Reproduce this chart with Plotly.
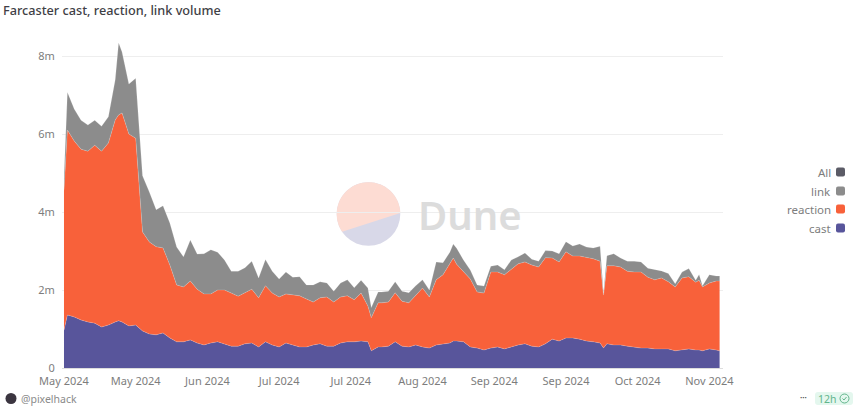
import numpy as np
import pandas as pd
import plotly.graph_objects as go

# days since 2024-05-01
days = [0, 1, 3, 5, 7, 9, 11, 13, 15, 16, 17, 19, 21, 23, 25, 27, 29, 31, 33, 35,
        37, 39, 41, 43, 45, 47, 49, 51, 53, 55, 57, 59, 61, 63, 65, 67, 69, 71, 73, 75,
        77, 79, 81, 83, 85, 87, 89, 90, 92, 93, 95, 97, 99, 101, 103, 105, 107, 109, 111, 113,
        114, 115, 117, 119, 121, 123, 125, 127, 129, 131, 133, 135, 137, 139, 141, 143, 145, 147, 149, 151, 153,
        155, 157, 158, 159, 161, 163, 165, 167, 169, 171, 173, 175, 177, 179, 181, 183, 185, 186, 187, 189,
        191, 192]

# values in millions
cast = [.97, 1.36, 1.31, 1.23, 1.18, 1.15, 1.05, 1.10, 1.18, 1.21, 1.18, 1.08, 1.10, .95, .87, .85, .90, .77, .67, .67,
        .72, .64, .59, .64, .67, .62, .56, .56, .62, .64, .54, .67, .59, .54, .64, .59, .54, .54, .59, .62,
        .56, .56, .64, .67, .67, .69, .67, .44, .54, .54, .56, .67, .56, .54, .59, .54, .51, .59, .62, .64,
        .69, .69, .67, .54, .51, .46, .51, .54, .49, .54, .59, .62, .56, .54, .62, .74, .69, .77, .77, .74, .69,
        .67, .64, .51, .62, .59, .59, .56, .54, .51, .51, .49, .49, .49, .44, .46, .49, .46, .46, .44, .49,
        .46, .44]
reaction = [3.59, 4.74, 4.51, 4.38, 4.38, 4.56, 4.51, 4.67, 5.18, 5.28, 5.36, 4.92, 4.79, 2.54, 2.36, 2.26, 2.18, 1.87, 1.46, 1.41,
            1.51, 1.38, 1.31, 1.26, 1.33, 1.38, 1.36, 1.28, 1.31, 1.38, 1.26, 1.44, 1.33, 1.28, 1.26, 1.28, 1.31, 1.23, 1.10, 1.18,
            1.26, 1.13, 1.18, 1.18, 1.08, 1.23, .92, .85, 1.13, 1.13, 1.13, 1.26, 1.15, 1.13, 1.26, 1.51, 1.31, 1.67, 1.77, 2.05,
            2.13, 1.97, 1.79, 1.74, 1.44, 1.46, 1.95, 1.92, 1.90, 2.00, 2.08, 2.10, 2.08, 2.05, 2.21, 2.08, 2.03, 2.21, 2.10, 2.13, 2.15,
            2.13, 2.10, 1.36, 2.00, 2.03, 2.00, 1.92, 1.92, 1.95, 1.82, 1.77, 1.82, 1.72, 1.64, 1.85, 1.85, 1.74, 1.79, 1.64, 1.69,
            1.77, 1.79]
link = [.31, .97, .82, .74, .67, .64, .64, .67, 1.03, 1.85, 1.56, 1.28, 1.54, 1.44, 1.28, .95, 1.08, 1.08, .97, .77,
        1.05, .90, 1.03, 1.13, .97, .77, .56, .64, .64, .72, .51, .67, .56, .46, .56, .46, .49, .36, .44, .41,
        .36, .28, .36, .41, .31, .33, .46, .26, .28, .28, .28, .28, .26, .26, .26, .21, .18, .46, .31, .28,
        .36, .41, .31, .23, .18, .18, .15, .18, .13, .23, .18, .23, .15, .15, .18, .18, .21, .26, .26, .31, .26,
        .28, .38, .05, .26, .31, .23, .26, .28, .26, .23, .26, .18, .21, .08, .15, .21, .05, .15, .03, .21,
        .13, .13]

series_names = ["cast", "reaction", "link"]
series_values = [cast, reaction, link]
series_colors = ["#58559b", "#f8613a", "#8c8c8c"]
legend_names = ["All", "link", "reaction", "cast"]
legend_colors = ["#5b5b66", "#8c8c8c", "#f8613a", "#58559b"]
y_ticks = [0, 2, 4, 6, 8]
y_labels = ["0", "2m", "4m", "6m", "8m"]

FONT = "Noto Sans"
W, H = 860, 412
LEFT, RIGHT, TOP, BOTTOM = 62, 723, 40, 368


def px(x):
    return (x - LEFT) / (RIGHT - LEFT)


def py(y):
    return (BOTTOM - y) / (BOTTOM - TOP)


def poly(points):
    return "M " + " L ".join(f"{px(x):.5f},{py(y):.5f}" for x, y in points) + " Z"


def round_rect(cx, cy, w, h, r):
    x0, x1, y0, y1 = px(cx - w / 2), px(cx + w / 2), py(cy - h / 2), py(cy + h / 2)
    rx, ry = r / (RIGHT - LEFT), r / (BOTTOM - TOP)
    return (f"M {x0 + rx},{y0} L {x1 - rx},{y0} Q {x1},{y0} {x1},{y0 - ry} "
            f"L {x1},{y1 + ry} Q {x1},{y1} {x1 - rx},{y1} L {x0 + rx},{y1} "
            f"Q {x0},{y1} {x0},{y1 + ry} L {x0},{y0 - ry} Q {x0},{y0} {x0 + rx},{y0} Z")


def circle(cx, cy, r, color, layer="above"):
    return dict(type="circle", xref="paper", yref="paper", layer=layer, line_width=0, fillcolor=color,
                x0=px(cx - r), x1=px(cx + r), y0=py(cy + r), y1=py(cy - r))


def note(x, y, text, size=11, color="#7d7d7d", anchor="left", weight=400):
    return dict(xref="paper", yref="paper", x=px(x), y=py(y), text=text, showarrow=False,
                xanchor=anchor, yanchor="middle", xshift=0, borderpad=0,
                font=dict(family=FONT, size=size, color=color, weight=weight))


dates = pd.Timestamp("2024-05-01") + pd.to_timedelta(days, unit="D")

fig = go.Figure()
for name, values, color in zip(series_names, series_values, series_colors):
    fig.add_trace(go.Scatter(x=dates, y=values, name=name, mode="lines", stackgroup="one",
                             line=dict(width=0.5, color="rgba(255,255,255,0.35)"),
                             fillcolor=color, showlegend=False))

shapes = []
annotations = []

# Dune watermark
logo_cx, logo_cy, logo_r = 368.5, 214, 31.8
shapes.append(circle(logo_cx, logo_cy, logo_r, "#d8d8e8", "below"))
angles = np.radians(np.linspace(2, 214, 70))
upper = [(logo_cx + logo_r * np.cos(a), logo_cy - logo_r * np.sin(a)) for a in angles]
shapes.append(dict(type="path", xref="paper", yref="paper", layer="below", line_width=0,
                   fillcolor="#fddcd3", path=poly(upper)))
annotations.append(note(417, 214, "Dune", size=40, color="#dcdcdc", weight=600))

# legend, marker on the right of the label
for name, color, y in zip(legend_names, legend_colors, [172, 191, 209, 228]):
    annotations.append(note(832, y, name, size=11.5, color="#7d7d7d", anchor="right"))
    shapes.append(dict(type="path", xref="paper", yref="paper", line_width=0, fillcolor=color,
                       path=round_rect(840.5, y, 9, 9, 2)))

# footer
shapes.append(circle(11, 398.5, 5.5, "#3b3540"))
annotations.append(note(20, 398.5, "@pixelhack", size=10.5, color="#8a8a8a"))
annotations.append(note(803, 398, "•••", size=6, color="#555555", anchor="center"))
shapes.append(dict(type="path", xref="paper", yref="paper", line_width=0, fillcolor="#e4f7ee",
                   path=round_rect(834, 398.5, 38, 13, 3)))
annotations.append(note(817, 398.5, "12h", size=10.5, color="#62b58c"))
shapes.append(dict(type="circle", xref="paper", yref="paper", line=dict(color="#62b58c", width=1),
                   x0=px(840), x1=px(849), y0=py(403), y1=py(394)))
shapes.append(dict(type="path", xref="paper", yref="paper", line=dict(color="#62b58c", width=1),
                   path=(f"M {px(842.5)},{py(398.5)} L {px(844)},{py(400)} L {px(846.5)},{py(397)}")))

fig.update_layout(
    width=W, height=H,
    margin=dict(l=LEFT, r=W - RIGHT, t=TOP, b=H - BOTTOM, pad=0),
    paper_bgcolor="white", plot_bgcolor="white",
    title=dict(text="Farcaster cast, reaction, link volume", x=3 / W, xref="container", xanchor="left",
               y=1 - 11 / H, yanchor="middle", font=dict(family=FONT, size=12.7, color="#3f3f46", weight=500)),
    showlegend=False,
    shapes=shapes,
    annotations=annotations,
    xaxis=dict(type="date", range=["2024-04-30 10:00", "2024-11-10 00:00"],
               tick0="2024-05-01", dtick=21 * 86400000, tickformat="%b %Y",
               showgrid=False, zeroline=False, showline=True, linecolor="#dddddd", linewidth=1,
               ticks="outside", ticklen=3, tickcolor="rgba(0,0,0,0)",
               tickfont=dict(family=FONT, size=11, color="#7d7d7d")),
    yaxis=dict(range=[0, (BOTTOM - TOP) / 39], tickvals=y_ticks, ticktext=y_labels,
               showgrid=True, gridcolor="#eeeeee", gridwidth=1, zeroline=False, showline=False,
               ticks="outside", ticklen=4, tickcolor="rgba(0,0,0,0)",
               tickfont=dict(family=FONT, size=11, color="#7d7d7d")),
)

# the browser's default body margin would push the chart 8px in
fig.write_html("out.html", config={"displayModeBar": False},
               post_script="document.body.style.margin='0';")
